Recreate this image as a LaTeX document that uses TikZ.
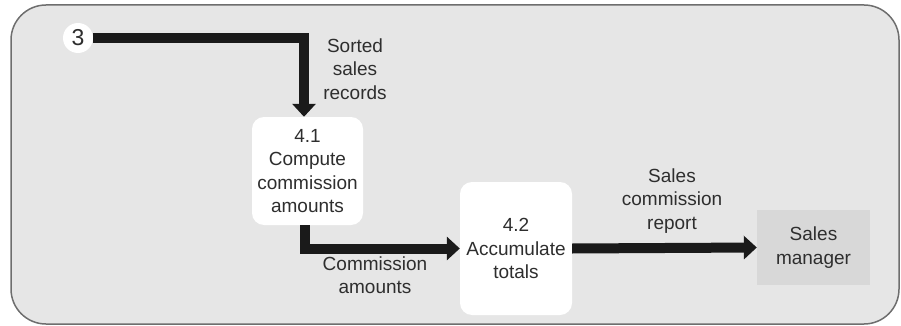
\documentclass[tikz,border=0pt]{standalone}
\usepackage{fontspec}
\setmainfont{Liberation Sans}
\usetikzlibrary{arrows.meta,calc}
\definecolor{panel}{HTML}{E6E6E6}
\definecolor{rim}{HTML}{6E6E6E}
\definecolor{ink}{HTML}{2E2E2E}
\definecolor{flowink}{HTML}{1A1A1A}
\definecolor{agent}{HTML}{D8D8D8}
\tikzset{
  process/.style={fill=white, rounded corners=12pt, draw=none,
    text=ink, align=center, inner sep=0pt,
    font=\fontsize{19}{23.5}\selectfont},
  extent/.style={fill=agent, draw=none, text=ink, align=center, inner sep=0pt,
    font=\fontsize{19}{23.5}\selectfont},
  flowlabel/.style={text=ink, align=center, inner sep=0pt,
    font=\fontsize{19}{23.5}\selectfont},
  flow/.style={draw=flowink, line width=10pt,
    -{Triangle[width=23pt,length=13pt]}, line cap=butt, line join=miter},
  connector/.style={circle, fill=white, draw=none, minimum size=30pt,
    inner sep=0pt, text=ink, font=\fontsize{23}{23}\selectfont}
}
\begin{document}
\begin{tikzpicture}[x=1pt,y=-1pt]
  \useasboundingbox (0,0) rectangle (901,326);
  % framing panel
  \draw[fill=panel, draw=rim, line width=1.5pt, rounded corners=35pt]
    (11,5) rectangle (899,324);

  % off-page connector and processes
  \node[connector] (c3) at (78,38) {3};
  \node[process, minimum width=111pt, minimum height=108pt] (p41) at (307.5,171)
    {4.1\\Compute\\commission\\amounts};
  \node[process, minimum width=112pt, minimum height=133pt] (p42) at (516,248.5)
    {4.2\\Accumulate\\totals};
  \node[extent, minimum width=113pt, minimum height=75pt] (sm) at (813.5,247.5)
    {Sales\\manager};

  % data flows
  \draw[flow] (c3.east) -| ([xshift=-3.5pt]p41.north);
  \draw[flow] ([xshift=-2.5pt]p41.south) |- (p42.west);
  \draw[flow] (p42.east) -- (sm.west);

  % flow labels
  \node[flowlabel] (l1) at (355,69) {Sorted\\sales\\records};
  \node[flowlabel] (l2) at (375,275) {Commission\\amounts};
  \node[flowlabel] (l3) at (672,201) {Sales\\commission\\report};
\end{tikzpicture}
\end{document}
